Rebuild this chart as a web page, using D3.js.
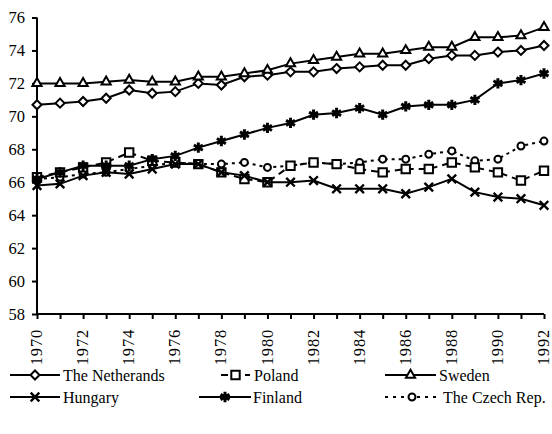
<!DOCTYPE html>
<html>
<head>
<meta charset="utf-8">
<script src="https://cdn.jsdelivr.net/npm/d3@7"></script>
<style>
  body{margin:0;background:#fff;}
  svg{display:block;font-family:"Liberation Serif","Times New Roman",serif;}
</style>
</head>
<body>
<svg id="chart" width="552" height="434"></svg>
<script>
// data
const years = [1970,1971,1972,1973,1974,1975,1976,1977,1978,1979,1980,1981,1982,1983,1984,1985,1986,1987,1988,1989,1990,1991,1992];
const yTicks = [58,60,62,64,66,68,70,72,74,76];
const xLabelYears = [1970,1972,1974,1976,1978,1980,1982,1984,1986,1988,1990,1992];

const netherlands = [70.7,70.8,70.9,71.1,71.6,71.4,71.5,72.0,71.9,72.4,72.5,72.7,72.7,72.9,73.0,73.1,73.1,73.5,73.7,73.7,73.9,74.0,74.3];
const poland      = [66.3,66.6,66.9,67.2,67.8,67.3,67.2,67.1,66.6,66.2,66.0,67.0,67.2,67.1,66.8,66.6,66.8,66.8,67.2,66.9,66.6,66.1,66.7];
const sweden      = [72.0,72.0,72.0,72.1,72.2,72.1,72.1,72.4,72.4,72.6,72.8,73.2,73.4,73.6,73.8,73.8,74.0,74.2,74.2,74.8,74.8,74.9,75.4];
const hungary     = [65.8,65.9,66.4,66.6,66.5,66.8,67.1,67.1,66.6,66.4,66.0,66.0,66.1,65.6,65.6,65.6,65.3,65.7,66.2,65.4,65.1,65.0,64.6];
const finland     = [66.2,66.6,67.0,67.0,67.0,67.4,67.6,68.1,68.5,68.9,69.3,69.6,70.1,70.2,70.5,70.1,70.6,70.7,70.7,71.0,72.0,72.2,72.6];
const czech       = [66.2,66.3,66.5,66.6,66.8,67.0,67.2,67.1,67.1,67.2,66.9,67.0,67.2,67.1,67.2,67.4,67.4,67.7,67.9,67.3,67.4,68.2,68.5];

const seriesNames = ["The Netherands","Poland","Sweden","Hungary","Finland","The Czech Rep."];
const seriesValues = [netherlands,poland,sweden,hungary,finland,czech];

// look of each series
const styles = [
  {sym:d3.symbolDiamond2, size:52, open:true, dash:null},
  {sym:d3.symbolSquare2, size:90, open:true, dash:"7,5"},
  {sym:d3.symbolTriangle2, size:60, open:true, dash:null},
  {sym:d3.symbolX, size:50, open:false, dash:null},
  {sym:d3.symbolAsterisk, size:75, open:false, dash:null},
  {sym:d3.symbolCircle, size:38, open:true, dash:"3,4"}
];

const svg = d3.select("#chart");
const x = d3.scaleLinear().domain([1970,1992]).range([37,544]);
const y = d3.scaleLinear().domain([58,76]).range([314,17.5]);

// axes
const yAxis = svg.append("g")
  .attr("transform","translate(37,0)")
  .call(d3.axisLeft(y).tickValues(yTicks).tickSize(5).tickPadding(7).tickFormat(d3.format("d")));
yAxis.select(".domain").attr("stroke","#000").attr("stroke-width",2).attr("d","M0,17.5V314");
yAxis.selectAll(".tick line").attr("stroke-width",2);
yAxis.selectAll("text").attr("font-size",16.5).attr("fill","#000").attr("font-family","Liberation Serif");

const xAxis = svg.append("g")
  .attr("transform","translate(0,314)")
  .call(d3.axisBottom(x).tickValues(years).tickSize(5).tickFormat(d=> xLabelYears.includes(d)? d : ""));
xAxis.select(".domain").attr("stroke","#000").attr("stroke-width",2).attr("d","M37,0H544");
xAxis.selectAll(".tick line").attr("stroke-width",2);
xAxis.selectAll("text")
  .attr("font-size",16.5).attr("fill","#000").attr("font-family","Liberation Serif")
  .attr("letter-spacing",0.8)
  .attr("text-anchor","end")
  .attr("transform","rotate(-90)")
  .attr("x",-15).attr("y",0).attr("dy","0.28em");

// lines and markers
const line = d3.line().x((d,i)=>x(years[i])).y(d=>y(d));

function drawMarker(g, st, px, py){
  g.append("path")
    .attr("d", d3.symbol().type(st.sym).size(st.size)())
    .attr("transform","translate("+px+","+py+")")
    .attr("fill", st.open ? "#fff" : "none")
    .attr("stroke","#000")
    .attr("stroke-width", st.sym===d3.symbolAsterisk ? 3 : (st.sym===d3.symbolX ? 2.4 : 2));
}

const order = [5,1,3,4,0,2];
order.forEach(k=>{
  const st = styles[k];
  const g = svg.append("g").attr("class","series-"+k);
  g.append("path")
    .datum(seriesValues[k])
    .attr("d",line)
    .attr("fill","none")
    .attr("stroke","#000")
    .attr("stroke-width",2)
    .attr("stroke-dasharray",st.dash);
  seriesValues[k].forEach((v,i)=>drawMarker(g, st, x(years[i]), y(v)));
});

// legend
const legendPos = [
  {x0:10, x1:60, tx:63, ty:375},
  {x0:221, x1:250, tx:254, ty:375},
  {x0:385, x1:436, tx:439, ty:375},
  {x0:10, x1:60, tx:63, ty:397},
  {x0:199, x1:251, tx:253, ty:397},
  {x0:385, x1:439, tx:443, ty:397}
];
const legend = svg.append("g").attr("class","legend");
seriesNames.forEach((name,k)=>{
  const p = legendPos[k], st = styles[k];
  const lg = legend.append("g");
  lg.append("line")
    .attr("x1",p.x0).attr("x2",p.x1).attr("y1",p.ty).attr("y2",p.ty)
    .attr("stroke","#000").attr("stroke-width",2)
    .attr("stroke-dasharray",k===5 ? "3,5" : st.dash);
  drawMarker(lg, st, (p.x0+p.x1)/2, p.ty);
  lg.append("text")
    .attr("x",p.tx).attr("y",p.ty).attr("dy","0.35em")
    .attr("font-size",16)
    .text(name);
});
</script>
</body>
</html>
